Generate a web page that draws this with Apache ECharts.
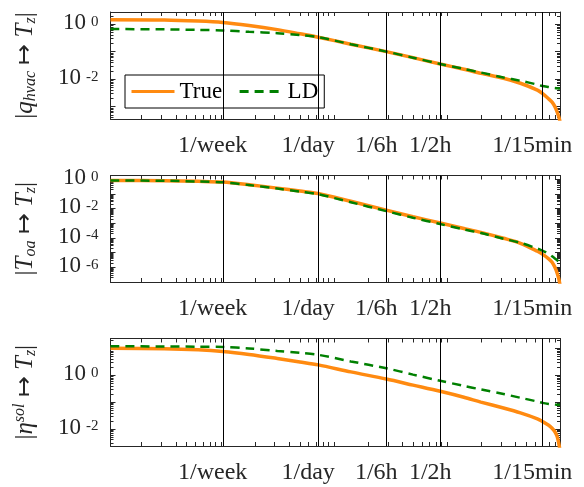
<!DOCTYPE html>
<html>
<head>
<meta charset="utf-8">
<script src="https://cdn.jsdelivr.net/npm/echarts@6/dist/echarts.min.js"></script>
<style>
  html, body { margin: 0; background: #fff; }
  #chart { width: 584px; height: 487px; }
</style>
</head>
<body>
<div id="chart"></div>
<script>
// x: log10 of frequency (rad/s), y: log10 of |H|
const logOmega = [-5.975, -5.5, -5.2, -4.983, -4.75, -4.5, -4.3, -4.138, -3.85, -3.536, -3.3, -3.059,
  -2.85, -2.7, -2.5, -2.35, -2.2, -2.156, -2.1, -2.07, -2.045, -2.025, -2.01, -2.0]

const hvacTrue = [0.16, 0.15, 0.11, 0.06, -0.05, -0.2, -0.35, -0.475, -0.73, -1.0, -1.22, -1.45,
  -1.64, -1.79, -1.97, -2.15, -2.4, -2.52, -2.72, -2.84, -3.0, -3.2, -3.38, -3.55]
const hvacLD = [-0.18, -0.19, -0.21, -0.23, -0.28, -0.33, -0.4, -0.475, -0.73, -1.0, -1.22, -1.45,
  -1.63, -1.76, -1.94, -2.06, -2.2, -2.25, -2.29, -2.31, -2.32, -2.33, -2.34, -2.34]

const oaTrue = [-0.08, -0.1, -0.14, -0.19, -0.37, -0.6, -0.8, -0.97, -1.5, -2.1, -2.55, -2.98,
  -3.35, -3.62, -4.02, -4.36, -4.9, -5.1, -5.42, -5.65, -6.0, -6.4, -6.8, -7.2]
const oaLD = [-0.08, -0.1, -0.15, -0.2, -0.39, -0.63, -0.84, -1.02, -1.56, -2.17, -2.62, -3.05,
  -3.42, -3.66, -4.05, -4.33, -4.72, -4.86, -5.08, -5.25, -5.4, -5.52, -5.62, -5.7]

const solTrue = [1.0, 0.98, 0.94, 0.88, 0.77, 0.62, 0.49, 0.38, 0.12, -0.145, -0.37, -0.6,
  -0.82, -1.0, -1.22, -1.4, -1.62, -1.72, -1.86, -1.97, -2.1, -2.28, -2.55, -2.8]
const solLD = [1.07, 1.065, 1.055, 1.045, 0.99, 0.9, 0.83, 0.755, 0.51, 0.255, 0.02, -0.21,
  -0.4, -0.53, -0.7, -0.84, -0.98, -1.03, -1.07, -1.08, -1.09, -1.1, -1.1, -1.1]

const periods = [604800, 86400, 21600, 7200, 900] // seconds
const periodLabels = ["1/week", "1/day", "1/6h", "1/2h", "1/15min"]

const xRange = [-5.975, -2.0]
const yRanges = [[-3.45, 0.44], [-7.0, 0.26], [-2.63, 1.36]]
const yLabelExp = [[0, -2], [0, -2, -4, -6], [0, -2]]

const font = "Liberation Serif, Times New Roman, serif"
const ink = "#262626"
const panels = [
  { top: 12, height: 107, t: hvacTrue, ld: hvacLD,
    name: "{n||}{i|q}{s|hvac}{n| ↦ }{i|T}{s|z}{n||}" },
  { top: 175.5, height: 106.5, t: oaTrue, ld: oaLD,
    name: "{n||}{i|T}{s|oa}{n| ↦ }{i|T}{s|z}{n||}" },
  { top: 338.5, height: 107.5, t: solTrue, ld: solLD,
    name: "{n||}{i|η}{p|sol}{n| ↦ }{i|T}{s|z}{n||}" }
]

const markLog = periods.map(T => Math.log10(2 * Math.PI / T))

function decadeTicks(r) {
  const out = []
  for (let n = Math.ceil(r[0]); n <= Math.floor(r[1]); n++) out.push(n)
  return out
}
function minorTicks(r) {
  const out = []
  for (let n = Math.floor(r[0]); n <= Math.ceil(r[1]); n++) {
    for (let k = 2; k <= 9; k++) {
      const v = n + Math.log10(k)
      if (v > r[0] && v < r[1]) out.push(v)
    }
  }
  return out
}

const expLabel = {
  margin: 12, color: ink,
  showMinLabel: true, showMaxLabel: true, hideOverlap: false,
  formatter: v => "{b|10}{e|" + Math.round(v) + "}",
  rich: {
    b: { fontFamily: font, fontSize: 23, lineHeight: 20, color: ink, verticalAlign: "bottom", padding: [9, 0, 0, 0] },
    e: { fontFamily: font, fontSize: 15, lineHeight: 17, color: ink, verticalAlign: "top", padding: [0, 0, 0, 5] }
  }
}

const grid = [], xAxis = [], yAxis = [], series = []
const xMinor = minorTicks(xRange).concat(decadeTicks(xRange))
const tickLine = { color: ink, width: 1 }

panels.forEach((p, i) => {
  grid.push({ left: 110.5, right: 24, top: p.top, height: p.height, outerBoundsMode: "none" })
  const baseX = { gridIndex: i, type: "value", min: xRange[0], max: xRange[1],
    splitLine: { show: false }, axisLine: { show: true, onZero: false, lineStyle: { color: ink, width: 1 } } }
  xAxis.push(Object.assign({}, baseX, {
    position: "bottom",
    axisTick: { show: true, inside: true, length: 4, customValues: xMinor, lineStyle: tickLine },
    axisLabel: {
      show: true, customValues: markLog, hideOverlap: false, showMinLabel: true, showMaxLabel: true,
      margin: 15, fontFamily: font, fontSize: 24, color: ink, padding: [0, 20, 0, 0],
      formatter: v => periodLabels[markLog.findIndex(m => Math.abs(m - v) < 1e-6)] || ""
    }
  }))
  xAxis.push(Object.assign({}, baseX, {
    position: "top",
    axisTick: { show: true, inside: true, length: 4, customValues: xMinor, lineStyle: tickLine },
    axisLabel: { show: false }
  }))

  const r = yRanges[i]
  // alternate labels over two axes so that neighbours never hide each other
  const labA = yLabelExp[i].filter((v, k) => k % 2 === 0)
  const labB = yLabelExp[i].filter((v, k) => k % 2 === 1)
  const baseY = { gridIndex: i, type: "value", min: r[0], max: r[1], splitLine: { show: false } }
  const lineOn = { show: true, onZero: false, lineStyle: { color: ink, width: 1 } }
  yAxis.push(Object.assign({}, baseY, {
    position: "left", axisLine: lineOn,
    axisTick: { show: true, inside: true, length: 5, customValues: decadeTicks(r), lineStyle: tickLine },
    axisLabel: Object.assign({ show: true, customValues: labA }, expLabel),
    name: p.name, nameLocation: "middle", nameRotate: 90, nameGap: 72,
    nameTextStyle: {
      color: ink, fontFamily: font, fontSize: 25,
      rich: {
        n: { fontFamily: font, fontSize: 25, lineHeight: 27, color: ink },
        i: { fontFamily: font, fontSize: 25, lineHeight: 27, fontStyle: "italic", color: ink },
        s: { fontFamily: font, fontSize: 16, lineHeight: 16, fontStyle: "italic", color: ink, verticalAlign: "bottom" },
        p: { fontFamily: font, fontSize: 16, lineHeight: 16, fontStyle: "italic", color: ink, verticalAlign: "top" }
      }
    }
  }))
  yAxis.push(Object.assign({}, baseY, {
    position: "left", axisLine: { show: false },
    axisTick: { show: true, inside: true, length: 3, customValues: minorTicks(r), lineStyle: tickLine },
    axisLabel: Object.assign({ show: labB.length > 0, customValues: labB }, expLabel)
  }))
  yAxis.push(Object.assign({}, baseY, {
    position: "right", axisLine: lineOn,
    axisTick: { show: true, inside: true, length: 5, customValues: decadeTicks(r), lineStyle: tickLine },
    axisLabel: { show: false }
  }))
  yAxis.push(Object.assign({}, baseY, {
    position: "right", axisLine: { show: false },
    axisTick: { show: true, inside: true, length: 3, customValues: minorTicks(r), lineStyle: tickLine },
    axisLabel: { show: false }
  }))

  series.push({
    name: "True", type: "line", xAxisIndex: i * 2, yAxisIndex: i * 4,
    data: logOmega.map((x, k) => [x, p.t[k]]),
    symbol: "none", smooth: 0.3, clip: true,
    lineStyle: { color: "#FF8A10", width: 3.5 }, itemStyle: { color: "#FF8A10" }
  })
  series.push({
    name: "LD", type: "line", xAxisIndex: i * 2, yAxisIndex: i * 4,
    data: logOmega.map((x, k) => [x, p.ld[k]]),
    symbol: "none", smooth: 0.3, clip: true,
    lineStyle: { color: "#008000", width: 2.5, type: [9, 6] }, itemStyle: { color: "#008000" },
    markLine: {
      silent: true, symbol: ["none", "none"], animation: false,
      label: { show: false },
      lineStyle: { color: "#000", width: 1, type: "solid" },
      emphasis: { disabled: true },
      data: markLog.map(v => ({ xAxis: v }))
    }
  })
})

const chart = echarts.init(document.getElementById("chart"))
chart.setOption({
  backgroundColor: "#fff",
  animation: false,
  grid, xAxis, yAxis, series,
  legend: {
    data: ["True", "LD"],
    left: 125, top: 75,
    orient: "horizontal",
    selectedMode: false,
    itemWidth: 43, itemHeight: 14, itemGap: 16,
    padding: [5, 6, 5, 5],
    backgroundColor: "#fff",
    borderColor: "#000", borderWidth: 1, borderRadius: 0,
    itemStyle: { opacity: 0 },
    lineStyle: { width: 3 },
    textStyle: { fontFamily: font, fontSize: 23, color: "#000" }
  }
})
</script>
</body>
</html>
